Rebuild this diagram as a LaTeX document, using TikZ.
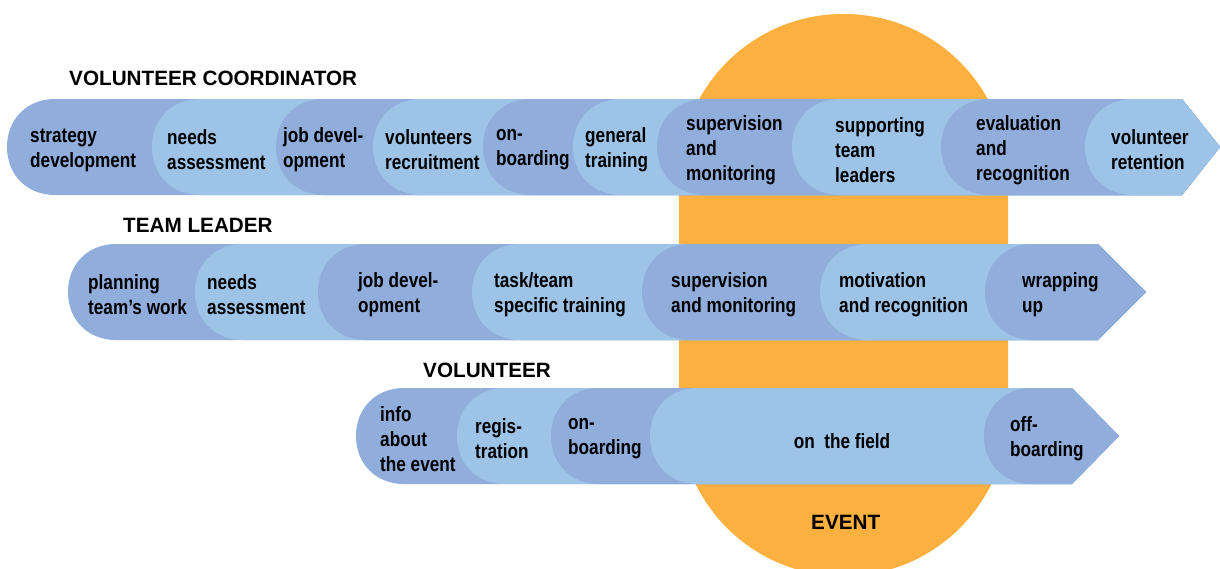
\documentclass[tikz,border=0pt]{standalone}
\usepackage{fontspec}
\setmainfont{Liberation Sans}
\newfontfamily\condfont{Liberation Sans}[FakeStretch=0.83]
\definecolor{stepdark}{HTML}{91ADDC}
\definecolor{steplight}{HTML}{9DC3E6}
\definecolor{eventorange}{HTML}{FBB040}

% One stage of a process arrow: rounded left end, body running to the arrow tip.
% #1 colour, #2 left x, #3 row top, #4 end of body, #5 tip x  (rows are 96 high)
\newcommand\stageshape[5]{%
  \fill[#1] (#2+48,#3) -- (#4,#3) -- (#5,#3+48) -- (#4,#3+96) -- (#2+48,#3+96)
    .. controls (#2+20,#3+96) and (#2,#3+76) .. (#2,#3+48)
    .. controls (#2,#3+20) and (#2+20,#3) .. (#2+48,#3) -- cycle;}

\tikzset{
  stagetext/.style={anchor=west, inner sep=0pt, align=left, text=black,
    font=\condfont\bfseries\fontsize{20.7}{25}\selectfont},
  headtext/.style={anchor=west, inner sep=0pt, text=black,
    font=\bfseries\fontsize{20.7}{24}\selectfont}
}

\begin{document}
\begin{tikzpicture}[x=1pt,y=-1pt]
\useasboundingbox (0,0) rectangle (1220,568);
\clip (0,0) rectangle (1220,568);

% event period behind the rows
\fill[eventorange, rounded corners=164] (679,14) rectangle (1008,576);

% volunteer coordinator row
\foreach \c/\x in {stepdark/7, steplight/152, stepdark/276, steplight/373,
  stepdark/483, steplight/573, stepdark/657, steplight/792, stepdark/941,
  steplight/1085}
  {\stageshape{\c}{\x}{99}{1182}{1220}}

% team leader row
\foreach \c/\x in {stepdark/68, steplight/195, stepdark/318, steplight/472,
  stepdark/642, steplight/820, stepdark/985}
  {\stageshape{\c}{\x}{244}{1098}{1146}}

% volunteer row
\foreach \c/\x in {stepdark/356, steplight/457, stepdark/551, steplight/650,
  stepdark/984}
  {\stageshape{\c}{\x}{388}{1072}{1119}}

% headings
\node[headtext] (hcoord) at (69,78) {VOLUNTEER COORDINATOR};
\node[headtext] (hlead) at (123,225) {TEAM LEADER};
\node[headtext] (hvol) at (423,370) {VOLUNTEER};
\node[headtext] (hevent) at (811,522) {EVENT};

% coordinator stages
\node[stagetext] (c1) at (30,150) {strategy\\development};
\node[stagetext] (c2) at (167,150) {needs\\assessment};
\node[stagetext] (c3) at (283,150) {job devel-\\opment};
\node[stagetext] (c4) at (385,150) {volunteers\\recruitment};
\node[stagetext] (c5) at (496,150) {on-\\boarding};
\node[stagetext] (c6) at (585,150) {general\\training};
\node[stagetext] (c7) at (686,150) {supervision\\and\\monitoring};
\node[stagetext] (c8) at (835,150) {supporting\\team\\leaders};
\node[stagetext] (c9) at (976,150) {evaluation\\and\\recognition};
\node[stagetext] (c10) at (1111,150) {volunteer\\retention};

% team leader stages
\node[stagetext] (t1) at (88,295) {planning\\team’s work};
\node[stagetext] (t2) at (207,295) {needs\\assessment};
\node[stagetext] (t3) at (358,295) {job devel-\\opment};
\node[stagetext] (t4) at (494,295) {task/team\\specific training};
\node[stagetext] (t5) at (671,295) {supervision\\and monitoring};
\node[stagetext] (t6) at (839,295) {motivation\\and recognition};
\node[stagetext] (t7) at (1022,295) {wrapping\\up};

% volunteer stages
\node[stagetext] (v1) at (380,439) {info\\about\\the event};
\node[stagetext] (v2) at (475,439) {regis-\\tration};
\node[stagetext] (v3) at (568,439) {on-\\boarding};
\node[stagetext, anchor=center] (v4) at (842,441) {on\ \ the field};
\node[stagetext] (v5) at (1010,439) {off-\\boarding};
\end{tikzpicture}
\end{document}
